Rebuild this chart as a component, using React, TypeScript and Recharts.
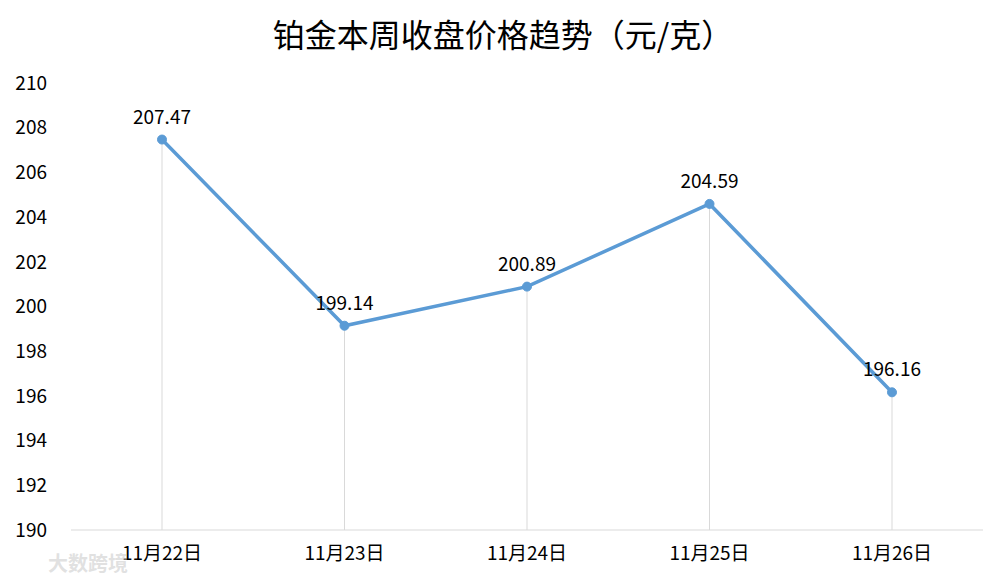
import React from "react";
import { LineChart, Line, XAxis, YAxis, LabelList } from "recharts";

const categories = ["11月22日", "11月23日", "11月24日", "11月25日", "11月26日"];
const prices = [207.47, 199.14, 200.89, 204.59, 196.16];
const yTicks = [190, 192, 194, 196, 198, 200, 202, 204, 206, 208, 210];

const data = categories.map((day, i) => ({ day, price: prices[i] }));

const W = 1006;
const H = 582;
const MARGIN = { top: 83, right: 23, bottom: 22, left: 0 };
const X_AXIS_H = 30;
const PLOT_BOTTOM = H - MARGIN.bottom - X_AXIS_H;
const FONT = "'Noto Sans CJK SC', 'Noto Sans', sans-serif";

// vertical drop line from each point down to the axis
const DropLine = (props: any) => {
  const { cx, cy, index } = props;
  return (
    <line
      key={`drop-${index}`}
      x1={cx}
      y1={cy}
      x2={cx}
      y2={PLOT_BOTTOM}
      stroke="#d9d9d9"
      strokeWidth={1}
    />
  );
};

export default function App() {
  return (
    <div style={{ position: "absolute", left: 0, top: 0, width: W, height: H, background: "#fff" }}>
      <div
        style={{
          position: "absolute",
          top: 10,
          width: W,
          textAlign: "center",
          fontFamily: FONT,
          fontSize: 32,
          color: "#000",
        }}
      >
        铂金本周收盘价格趋势（元/克）
      </div>
      <LineChart width={W} height={H} data={data} margin={MARGIN}>
        <XAxis
          dataKey="day"
          height={X_AXIS_H}
          padding={{ left: 91, right: 91 }}
          tickLine={false}
          axisLine={{ stroke: "#d9d9d9" }}
          tick={{ fill: "#000", fontSize: 19, fontFamily: FONT }}
          tickMargin={11}
        />
        <YAxis
          width={71}
          domain={[190, 210]}
          ticks={yTicks}
          interval={0}
          axisLine={false}
          tickLine={false}
          tickMargin={18}
          tick={{ fill: "#000", fontSize: 19, fontFamily: FONT }}
        />
        <Line
          dataKey="price"
          stroke="none"
          dot={DropLine}
          activeDot={false}
          isAnimationActive={false}
          legendType="none"
        />
        <Line
          dataKey="price"
          stroke="#5b9bd5"
          strokeWidth={3.5}
          dot={{ r: 4.5, fill: "#5b9bd5", stroke: "#5b9bd5", strokeWidth: 1 }}
          activeDot={false}
          isAnimationActive={false}
        >
          <LabelList
            dataKey="price"
            position="top"
            offset={16}
            style={{ fill: "#000", fontSize: 19, fontFamily: FONT }}
          />
        </Line>
      </LineChart>
      <div
        style={{
          position: "absolute",
          left: 48,
          top: 548,
          fontFamily: FONT,
          fontSize: 20,
          fontWeight: "bold",
          color: "rgba(200,200,200,0.55)",
        }}
      >
        大数跨境
      </div>
    </div>
  );
}
